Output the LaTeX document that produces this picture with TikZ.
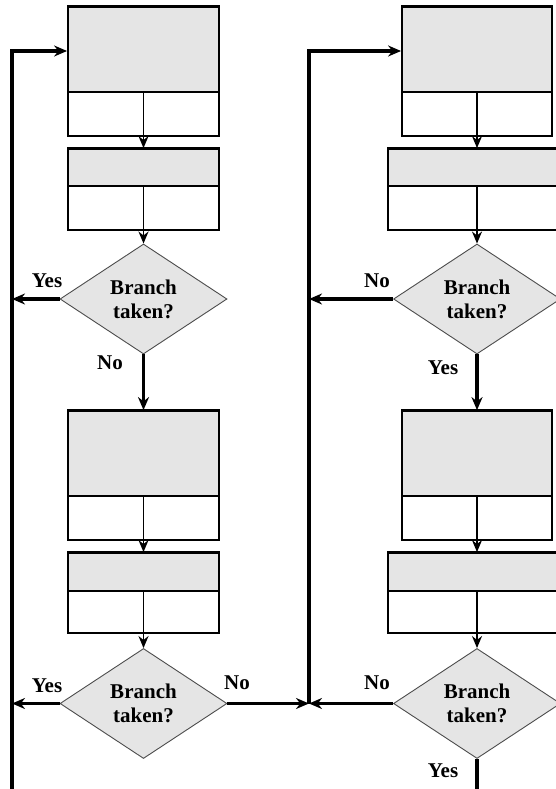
\documentclass[tikz,border=0pt]{standalone}
\usepackage{fontspec}
\setmainfont{Liberation Serif}
\usetikzlibrary{shapes.geometric,arrows.meta}
\definecolor{boxgray}{HTML}{E5E5E5}
\tikzset{
  graybox/.style={rectangle,draw=black,line width=1.8pt,fill=boxgray,inner sep=0pt,minimum height=#1},
  whitebox/.style={rectangle,draw=black,line width=1.8pt,fill=white,inner sep=0pt,minimum height=#1},
  decision/.style={diamond,draw=black!70,line width=0.9pt,fill=boxgray,inner sep=0pt,aspect=1.52,
    minimum width=167pt,minimum height=110pt,align=center,font=\fontsize{21}{24}\selectfont\bfseries},
  lbl/.style={font=\fontsize{21}{24}\selectfont\bfseries,inner sep=0pt},
  thin arrow/.style={line width=1.7pt,-{Stealth[length=12pt,width=10pt]}},
  thick arrow/.style={line width=3.2pt,-{Stealth[length=13pt,width=11pt]}},
  thick line/.style={line width=3.2pt},
  topedge/.style={line width=3pt}
}
\begin{document}
\begin{tikzpicture}[x=1pt,y=-1pt]
\useasboundingbox (0,0) rectangle (556,789);
\clip (0,0) rectangle (556,789);
% ---------- left column ----------
\node[graybox=85pt,minimum width=151pt] (A1g) at (143.5,49.5) {};
\node[whitebox=44pt,minimum width=151pt] (A1w) at (143.5,114) {};
\node[graybox=37pt,minimum width=151pt] (A2g) at (143.5,167.5) {};
\node[whitebox=44pt,minimum width=151pt] (A2w) at (143.5,208) {};
\node[decision] (L1) at (143.5,299) {Branch\\taken?};
\node[graybox=85pt,minimum width=151pt] (B1g) at (143.5,453.5) {};
\node[whitebox=44pt,minimum width=151pt] (B1w) at (143.5,518) {};
\node[graybox=38pt,minimum width=151pt] (B2g) at (143.5,572) {};
\node[whitebox=42pt,minimum width=151pt] (B2w) at (143.5,612) {};
\node[decision] (L2) at (143.5,703.5) {Branch\\taken?};
% ---------- right column ----------
\node[graybox=85pt,minimum width=150pt] (C1g) at (477,49.5) {};
\node[whitebox=44pt,minimum width=150pt] (C1w) at (477,114) {};
\node[graybox=37pt,minimum width=178pt] (C2g) at (477,167.5) {};
\node[whitebox=44pt,minimum width=178pt] (C2w) at (477,208) {};
\node[decision] (R1) at (477,299) {Branch\\taken?};
\node[graybox=85pt,minimum width=150pt] (D1g) at (477,453.5) {};
\node[whitebox=44pt,minimum width=150pt] (D1w) at (477,518) {};
\node[graybox=38pt,minimum width=178pt] (D2g) at (477,572) {};
\node[whitebox=42pt,minimum width=178pt] (D2w) at (477,612) {};
\node[decision] (R2) at (477,703.5) {Branch\\taken?};
% thicker top edges
\foreach \b in {A1g,A2g,B1g,B2g,C1g,C2g,D1g,D2g}
  \draw[topedge] (\b.north west) -- (\b.north east);
% inner arrows
\draw[thin arrow] (A1g.south) -- (A2g.north);
\draw[thin arrow] (A2g.south) -- (L1.north);
\draw[thin arrow] (B1g.south) -- (B2g.north);
\draw[thin arrow] (B2g.south) -- (L2.north);
\draw[thin arrow] (C1g.south) -- (C2g.north);
\draw[thin arrow] (C2g.south) -- (R1.north);
\draw[thin arrow] (D1g.south) -- (D2g.north);
\draw[thin arrow] (D2g.south) -- (R2.north);
% decision outputs
\draw[thick arrow] (L1.south) -- (B1g.north);
\draw[thick arrow] (R1.south) -- (D1g.north);
\coordinate (rend) at (477,789);
\draw[thick line] (R2.south) -- (rend);
% left loop
\coordinate (lt) at (12,51);
\coordinate (lb) at (12,789);
\draw[thick arrow] (lb) -- (lt) -- (lt -| A1g.west);
\draw[thick arrow] (L1.west) -- (L1.west -| lt);
\draw[thick arrow] (L2.west) -- (L2.west -| lt);
% right loop
\coordinate (rt) at (309,51);
\coordinate (rb) at (309,703.5);
\draw[thick arrow] (rb) -- (rt) -- (rt -| C1g.west);
\draw[thick arrow] (R1.west) -- (R1.west -| rt);
\draw[thick arrow] (L2.east) -- (rb);
\draw[thick arrow] (R2.west) -- (rb);
% labels
\node[lbl] (y1) at (47,281) {Yes};
\node[lbl] (n1) at (110,363) {No};
\node[lbl] (y2) at (47,686) {Yes};
\node[lbl] (n2) at (237,683) {No};
\node[lbl] (n3) at (377,281) {No};
\node[lbl] (y3) at (443,368) {Yes};
\node[lbl] (n4) at (377,683) {No};
\node[lbl] (y4) at (443,771) {Yes};
\end{tikzpicture}
\end{document}
